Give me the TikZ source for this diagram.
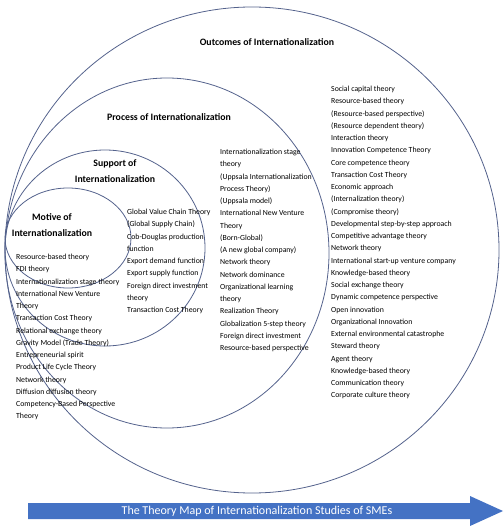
\documentclass[tikz,border=0pt]{standalone}
\usepackage{fontspec}
\setmainfont{Carlito}
\usepackage{tikz}
\usetikzlibrary{shapes.geometric}
\definecolor{ringblue}{RGB}{84,98,140}
\definecolor{arrowblue}{RGB}{68,114,196}

\begin{document}
\begin{tikzpicture}[x=1pt,y=-1pt]
 	\def \listgap{12.25}
 	\def \listsize{7.8}
 	\tikzstyle{ring}=[ellipse,draw=ringblue,line width=0.8pt,inner sep=0pt]
 	\tikzstyle{head}=[font=\fontsize{9.8}{16}\selectfont\bfseries,align=center,inner sep=0pt]
 	\tikzstyle{theories}=[font=\fontsize{\listsize}{\listgap}\selectfont,align=left,anchor=north west,inner sep=0pt]
 	\useasboundingbox (0,0) rectangle (503,526);

 	% rings
 	\node[ring,minimum width=494pt,minimum height=486pt] (outcome-ring) at (252,250) {};
 	\node[ring,minimum width=324pt,minimum height=350pt] (process-ring) at (167,253) {};
 	\node[ring,minimum width=200pt,minimum height=196pt] (support-ring) at (105,248) {};
 	\node[ring,minimum width=126pt,minimum height=100pt] (motive-ring) at (68,238) {};

 	% labels
 	\node[head] (outcome-label) at (267,42) {Outcomes of Internationalization};
 	\node[head] (process-label) at (169,117) {Process of Internationalization};
 	\node[head] (support-label) at (115,171) {Support of\\Internationalization};
 	\node[head] (motive-label) at (52,225) {Motive of\\Internationalization};

 	% theory lists
 	\node[theories] (motive-list) at (16,254) {Resource-based theory\\FDI theory\\Internationalization stage theory\\International New Venture\\Theory\\Transaction Cost Theory\\Relational exchange theory\\Gravity Model (Trade Theory)\\Entrepreneurial spirit\\Product Life Cycle Theory\\Network theory\\Diffusion diffusion theory\\Competency-Based Perspective\\Theory};
 	\node[theories] (support-list) at (127,209) {Global Value Chain Theory\\(Global Supply Chain)\\Cob-Douglas production\\function\\Export demand function\\Export supply function\\Foreign direct investment\\theory\\Transaction Cost Theory};
 	\node[theories] (process-list) at (220,149) {Internationalization stage\\theory\\(Uppsala Internationalization\\Process Theory)\\(Uppsala model)\\International New Venture\\Theory\\(Born-Global)\\(A new global company)\\Network theory\\Network dominance\\Organizational learning\\theory\\Realization Theory\\Globalization 5-step theory\\Foreign direct investment\\Resource-based perspective};
 	\node[theories] (outcome-list) at (331,86) {Social capital theory\\Resource-based theory\\(Resource-based perspective)\\(Resource dependent theory)\\Interaction theory\\Innovation Competence Theory\\Core competence theory\\Transaction Cost Theory\\Economic approach\\(Internalization theory)\\(Compromise theory)\\Developmental step-by-step approach\\Competitive advantage theory\\Network theory\\International start-up venture company\\Knowledge-based theory\\Social exchange theory\\Dynamic competence perspective\\Open innovation\\Organizational Innovation\\External environmental catastrophe\\Steward theory\\Agent theory\\Knowledge-based theory\\Communication theory\\Corporate culture theory};

 	% timeline arrow
 	\fill[arrowblue] (28,503) -- (470,503) -- (470,496) -- (503,511) -- (470,526) -- (470,519) -- (28,519) -- cycle;
 	\node[font=\fontsize{12}{14}\selectfont,text=white,inner sep=0pt] (map-label) at (257,511) {The Theory Map of Internationalization Studies of SMEs};
\end{tikzpicture}
\end{document}
